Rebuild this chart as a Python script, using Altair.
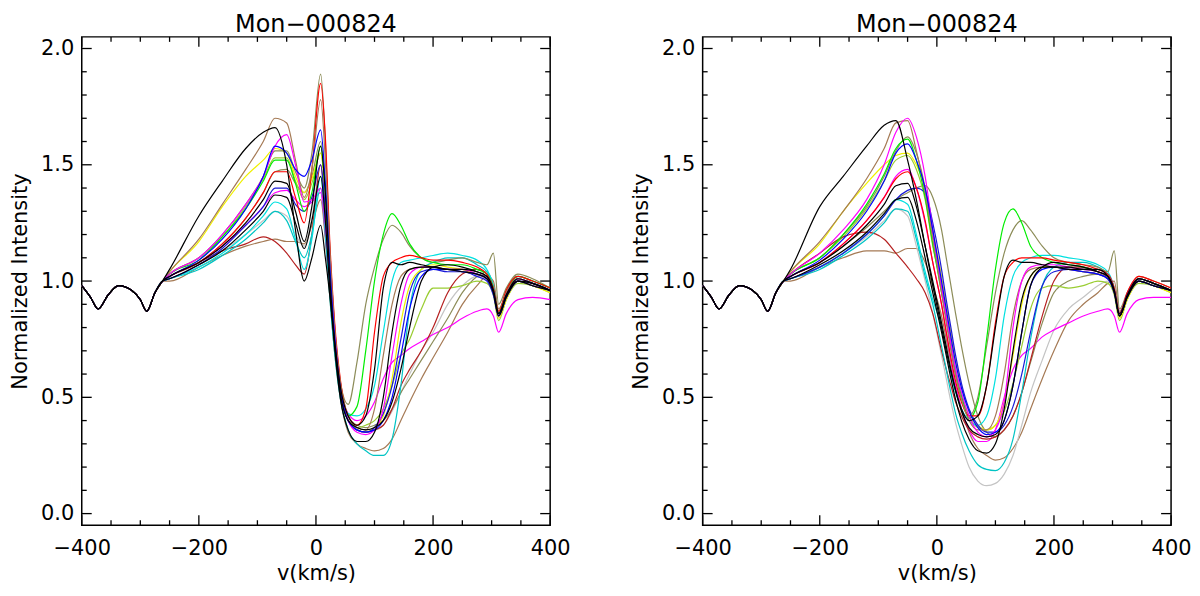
import altair as alt
import pandas as pd

# ---------------- data ----------------
V_WING = [-400, -385, -372, -355, -337, -315, -300, -289, -275, -262]
I_WING = [0.98, 0.93, 0.88, 0.94, 0.98, 0.96, 0.92, 0.87, 0.95, 1.00]

V_GRID = [-250, -200, -160, -120, -90, -70, -50, -35, -20, -7,
          8, 16, 24, 32, 42, 55,
          70, 85, 100, 115, 130, 145, 160, 180,
          200, 225, 250, 275, 292, 303,
          312, 325, 345, 370, 400]

CURVE_NAMES = ["tan2", "gray1", "magenta2", "olive2", "ygreen1", "darkred1", "cyan2", "cyan1",
               "yellow1", "blue2", "olive1", "green1", "red1", "tan1", "magenta1", "blue1",
               "black3", "black2", "black1"]
CURVE_COLORS = ["#a57a55", "#c4c4c4", "#ff00ff", "#8c8c58", "#9acd32", "#b52020", "#00c4c4", "#00e0e0",
                "#f0f000", "#1a1ad8", "#8c8c58", "#00ee00", "#ff0000", "#a57a55", "#ff00ff", "#0000ff",
                "#000000", "#000000", "#000000"]

# ---- left panel ----
L_black1 = [1.05, 1.28, 1.43, 1.57, 1.64, 1.66, 1.50, 1.22, 1.00, 1.10,
            1.24, 1.10, 0.93, 0.74, 0.54, 0.42,
            0.38, 0.42, 0.62, 0.97, 1.08, 1.07, 1.08, 1.07,
            1.06, 1.05, 1.05, 1.04, 1.02, 0.96,
            0.86, 0.94, 1.00, 0.99, 0.96]
L_tan1 = [1.04, 1.18, 1.33, 1.48, 1.60, 1.70, 1.68, 1.52, 1.36, 1.48,
          1.78, 1.52, 1.12, 0.80, 0.56, 0.42,
          0.37, 0.36, 0.45, 0.68, 0.90, 1.02, 1.05, 1.06,
          1.06, 1.05, 1.04, 1.03, 1.02, 0.96,
          0.86, 0.95, 1.01, 0.99, 0.96]
L_magenta1 = [1.03, 1.10, 1.20, 1.33, 1.45, 1.58, 1.63, 1.50, 1.34, 1.35,
              1.40, 1.24, 1.00, 0.76, 0.53, 0.40,
              0.35, 0.34, 0.36, 0.45, 0.68, 0.90, 1.03, 1.06,
              1.06, 1.05, 1.05, 1.03, 1.01, 0.96,
              0.85, 0.94, 1.01, 0.99, 0.96]
L_blue1 = [1.02, 1.09, 1.18, 1.31, 1.45, 1.58, 1.55, 1.48, 1.45, 1.52,
           1.65, 1.42, 1.05, 0.76, 0.53, 0.40,
           0.36, 0.35, 0.36, 0.40, 0.50, 0.68, 0.88, 1.02,
           1.05, 1.05, 1.04, 1.03, 1.01, 0.95,
           0.85, 0.93, 1.00, 0.99, 0.96]
L_olive1 = [1.03, 1.10, 1.20, 1.33, 1.45, 1.56, 1.56, 1.47, 1.40, 1.55,
            1.89, 1.60, 1.12, 0.80, 0.56, 0.47,
            0.65, 0.90, 1.06, 1.18, 1.24, 1.21, 1.15, 1.10,
            1.08, 1.09, 1.10, 1.08, 1.07, 1.12,
            0.90, 0.97, 1.03, 1.01, 0.97]
L_green1 = [1.03, 1.09, 1.19, 1.31, 1.43, 1.52, 1.52, 1.42, 1.30, 1.38,
            1.58, 1.38, 1.02, 0.76, 0.54, 0.42,
            0.46, 0.70, 1.00, 1.20, 1.29, 1.24, 1.16, 1.10,
            1.08, 1.07, 1.07, 1.05, 1.03, 0.97,
            0.86, 0.95, 1.02, 1.00, 0.97]
L_yellow1 = [1.04, 1.17, 1.32, 1.45, 1.52, 1.57, 1.55, 1.45, 1.38, 1.44,
             1.55, 1.38, 1.02, 0.76, 0.53, 0.40,
             0.36, 0.35, 0.37, 0.42, 0.58, 0.82, 0.98, 1.05,
             1.07, 1.06, 1.05, 1.03, 1.01, 0.95,
             0.84, 0.92, 1.00, 0.98, 0.95]
L_red1 = [1.02, 1.08, 1.16, 1.27, 1.38, 1.47, 1.47, 1.36, 1.25, 1.48,
          1.85, 1.62, 1.15, 0.82, 0.57, 0.42,
          0.38, 0.45, 0.78, 1.02, 1.08, 1.10, 1.11, 1.10,
          1.09, 1.09, 1.08, 1.06, 1.03, 0.97,
          0.87, 0.96, 1.02, 1.00, 0.97]
L_black2 = [1.02, 1.08, 1.15, 1.25, 1.35, 1.43, 1.42, 1.30, 1.17, 1.32,
            1.58, 1.38, 1.00, 0.73, 0.51, 0.40,
            0.37, 0.36, 0.37, 0.40, 0.48, 0.62, 0.80, 1.00,
            1.06, 1.07, 1.06, 1.04, 1.02, 0.96,
            0.86, 0.94, 1.01, 0.99, 0.96]
L_blue2 = [1.01, 1.07, 1.14, 1.24, 1.32, 1.40, 1.40, 1.33, 1.30, 1.36,
           1.50, 1.30, 0.98, 0.73, 0.51, 0.40,
           0.36, 0.35, 0.37, 0.43, 0.55, 0.75, 0.95, 1.04,
           1.05, 1.04, 1.04, 1.02, 1.00, 0.94,
           0.85, 0.93, 1.00, 0.98, 0.96]
L_black3 = [1.01, 1.07, 1.13, 1.22, 1.30, 1.37, 1.36, 1.25, 1.14, 1.26,
            1.45, 1.26, 0.95, 0.71, 0.49, 0.36,
            0.31, 0.31, 0.35, 0.50, 0.78, 0.98, 1.05, 1.06,
            1.06, 1.05, 1.04, 1.03, 1.01, 0.95,
            0.85, 0.93, 1.00, 0.98, 0.96]
L_cyan1 = [1.01, 1.06, 1.12, 1.20, 1.28, 1.34, 1.31, 1.18, 1.05, 1.18,
           1.45, 1.24, 0.95, 0.71, 0.51, 0.43,
           0.42, 0.45, 0.55, 0.78, 1.00, 1.08, 1.09, 1.10,
           1.11, 1.12, 1.11, 1.09, 1.05, 0.98,
           0.86, 0.96, 1.02, 1.00, 0.97]
L_cyan2 = [1.01, 1.05, 1.11, 1.18, 1.25, 1.30, 1.26, 1.17, 1.10, 1.20,
           1.40, 1.20, 0.92, 0.69, 0.49, 0.36,
           0.30, 0.27, 0.25, 0.25, 0.32, 0.55, 0.88, 1.05,
           1.08, 1.10, 1.10, 1.07, 1.04, 0.97,
           0.86, 0.95, 1.01, 0.99, 0.96]
L_gray1 = [1.02, 1.07, 1.13, 1.20, 1.26, 1.30, 1.28, 1.20, 1.15, 1.27,
           1.50, 1.28, 0.97, 0.73, 0.51, 0.40,
           0.37, 0.36, 0.36, 0.38, 0.44, 0.52, 0.60, 0.70,
           0.78, 0.90, 0.98, 1.02, 1.01, 0.95,
           0.85, 0.93, 1.00, 0.98, 0.96]
L_darkred1 = [1.02, 1.08, 1.13, 1.16, 1.19, 1.17, 1.12, 1.07, 1.03, 1.20,
              1.50, 1.28, 0.97, 0.73, 0.51, 0.40,
              0.36, 0.35, 0.36, 0.38, 0.45, 0.55, 0.62, 0.70,
              0.80, 0.95, 1.03, 1.05, 1.03, 0.96,
              0.86, 0.94, 1.00, 0.98, 0.96]
L_tan2 = [1.00, 1.06, 1.11, 1.15, 1.17, 1.18, 1.17, 1.17, 1.16, 1.24,
          1.35, 1.18, 0.92, 0.69, 0.49, 0.35,
          0.30, 0.28, 0.27, 0.28, 0.32, 0.40, 0.48, 0.58,
          0.67, 0.78, 0.90, 0.98, 1.02, 1.00,
          0.88, 0.95, 1.01, 0.99, 0.96]
L_magenta2 = [1.02, 1.08, 1.15, 1.24, 1.32, 1.38, 1.39, 1.35, 1.32, 1.34,
              1.38, 1.20, 0.95, 0.73, 0.53, 0.43,
              0.40, 0.42, 0.48, 0.58, 0.65, 0.68, 0.71, 0.74,
              0.77, 0.80, 0.84, 0.87, 0.88, 0.85,
              0.78, 0.86, 0.92, 0.93, 0.92]
L_ygreen1 = [1.03, 1.10, 1.19, 1.32, 1.44, 1.53, 1.53, 1.43, 1.35, 1.42,
             1.55, 1.36, 1.00, 0.74, 0.51, 0.40,
             0.37, 0.38, 0.40, 0.45, 0.55, 0.68, 0.75, 0.88,
             0.97, 0.97, 0.98, 1.00, 0.99, 0.94,
             0.83, 0.92, 0.99, 0.98, 0.95]
L_olive2 = [1.02, 1.08, 1.16, 1.27, 1.38, 1.47, 1.48, 1.42, 1.38, 1.45,
            1.60, 1.40, 1.02, 0.75, 0.53, 0.42,
            0.38, 0.37, 0.38, 0.40, 0.45, 0.52, 0.58, 0.66,
            0.74, 0.84, 0.95, 1.02, 1.04, 0.98,
            0.87, 0.95, 1.01, 0.99, 0.96]

# ---- right panel ----
R_black1 = [1.05, 1.32, 1.45, 1.58, 1.67, 1.69, 1.52, 1.35, 1.15, 0.98,
            0.80, 0.70, 0.61, 0.53, 0.45, 0.40,
            0.42, 0.55, 0.80, 1.02, 1.09, 1.08, 1.08, 1.07,
            1.06, 1.06, 1.05, 1.05, 1.02, 0.95,
            0.85, 0.93, 1.01, 0.99, 0.96]
R_magenta1 = [1.03, 1.12, 1.22, 1.35, 1.50, 1.64, 1.70, 1.62, 1.45, 1.22,
              0.98, 0.85, 0.73, 0.62, 0.52, 0.42,
              0.35, 0.33, 0.36, 0.48, 0.80, 1.00, 1.06, 1.07,
              1.07, 1.06, 1.05, 1.04, 1.02, 0.96,
              0.86, 0.94, 1.01, 0.99, 0.96]
R_tan1 = [1.04, 1.17, 1.30, 1.44, 1.57, 1.68, 1.69, 1.56, 1.38, 1.18,
          0.95, 0.82, 0.70, 0.59, 0.49, 0.40,
          0.36, 0.36, 0.42, 0.60, 0.85, 1.00, 1.05, 1.06,
          1.06, 1.05, 1.04, 1.03, 1.02, 0.96,
          0.85, 0.93, 1.00, 0.98, 0.96]
R_olive1 = [1.03, 1.10, 1.20, 1.32, 1.45, 1.56, 1.62, 1.55, 1.40, 1.20,
            0.97, 0.84, 0.72, 0.60, 0.49, 0.42,
            0.50, 0.72, 0.95, 1.12, 1.22, 1.26, 1.22, 1.15,
            1.10, 1.08, 1.07, 1.06, 1.04, 1.13,
            0.88, 0.95, 1.02, 1.00, 0.97]
R_green1 = [1.03, 1.10, 1.20, 1.33, 1.46, 1.57, 1.61, 1.52, 1.36, 1.16,
            0.95, 0.84, 0.72, 0.61, 0.51, 0.41,
            0.48, 0.75, 1.05, 1.25, 1.31, 1.25, 1.15, 1.10,
            1.08, 1.07, 1.06, 1.04, 1.02, 0.96,
            0.85, 0.94, 1.01, 0.99, 0.96]
R_yellow1 = [1.04, 1.16, 1.30, 1.42, 1.50, 1.54, 1.55, 1.50, 1.40, 1.22,
             1.02, 0.90, 0.78, 0.66, 0.55, 0.44,
             0.38, 0.36, 0.38, 0.48, 0.68, 0.90, 1.02, 1.06,
             1.06, 1.05, 1.04, 1.03, 1.01, 0.95,
             0.84, 0.92, 1.00, 0.98, 0.95]
R_red1 = [1.02, 1.08, 1.16, 1.26, 1.36, 1.44, 1.47, 1.40, 1.26, 1.08,
          0.90, 0.78, 0.67, 0.57, 0.48, 0.42,
          0.42, 0.55, 0.82, 1.02, 1.08, 1.10, 1.10, 1.10,
          1.09, 1.08, 1.07, 1.05, 1.03, 0.97,
          0.86, 0.95, 1.02, 1.00, 0.97]
R_blue1 = [1.02, 1.09, 1.18, 1.30, 1.43, 1.55, 1.59, 1.52, 1.40, 1.22,
           1.00, 0.88, 0.76, 0.65, 0.54, 0.44,
           0.37, 0.34, 0.35, 0.40, 0.55, 0.78, 0.98, 1.05,
           1.06, 1.05, 1.04, 1.03, 1.01, 0.95,
           0.85, 0.93, 1.00, 0.98, 0.96]
R_black2 = [1.02, 1.08, 1.15, 1.24, 1.33, 1.41, 1.42, 1.32, 1.15, 1.00,
            0.82, 0.72, 0.62, 0.53, 0.44, 0.37,
            0.34, 0.33, 0.34, 0.40, 0.55, 0.78, 0.98, 1.06,
            1.08, 1.07, 1.06, 1.04, 1.02, 0.96,
            0.86, 0.94, 1.01, 0.99, 0.96]
R_blue2 = [1.01, 1.06, 1.12, 1.20, 1.28, 1.35, 1.39, 1.40, 1.38, 1.25,
           1.05, 0.92, 0.80, 0.68, 0.56, 0.45,
           0.38, 0.35, 0.35, 0.38, 0.46, 0.60, 0.78, 0.98,
           1.04, 1.05, 1.04, 1.03, 1.01, 0.95,
           0.85, 0.93, 1.00, 0.98, 0.96]
R_black3 = [1.01, 1.07, 1.13, 1.21, 1.29, 1.35, 1.36, 1.26, 1.10, 0.95,
            0.78, 0.68, 0.58, 0.49, 0.40, 0.32,
            0.27, 0.26, 0.30, 0.45, 0.70, 0.92, 1.02, 1.06,
            1.06, 1.05, 1.05, 1.04, 1.02, 0.96,
            0.85, 0.93, 1.00, 0.98, 0.96]
R_cyan1 = [1.01, 1.06, 1.12, 1.20, 1.28, 1.35, 1.33, 1.20, 1.04, 0.92,
           0.80, 0.70, 0.60, 0.52, 0.45, 0.40,
           0.38, 0.42, 0.58, 0.85, 1.02, 1.08, 1.10, 1.11,
           1.11, 1.10, 1.09, 1.07, 1.04, 0.97,
           0.85, 0.94, 1.01, 0.99, 0.96]
R_cyan2 = [1.01, 1.05, 1.11, 1.18, 1.25, 1.31, 1.30, 1.18, 1.02, 0.90,
           0.72, 0.62, 0.52, 0.43, 0.35, 0.27,
           0.21, 0.19, 0.185, 0.22, 0.32, 0.52, 0.75, 0.98,
           1.06, 1.08, 1.08, 1.06, 1.03, 0.96,
           0.85, 0.94, 1.01, 0.99, 0.96]
R_gray1 = [1.01, 1.06, 1.12, 1.19, 1.26, 1.31, 1.28, 1.15, 1.00, 0.86,
           0.68, 0.58, 0.48, 0.39, 0.30, 0.20,
           0.14, 0.12, 0.13, 0.17, 0.25, 0.38, 0.52, 0.66,
           0.79, 0.88, 0.93, 0.98, 1.00, 0.95,
           0.85, 0.93, 1.00, 0.98, 0.96]
R_darkred1 = [1.03, 1.12, 1.19, 1.21, 1.18, 1.12, 1.06, 1.01, 0.95, 0.86,
              0.70, 0.62, 0.55, 0.48, 0.42, 0.36,
              0.33, 0.32, 0.33, 0.36, 0.42, 0.52, 0.66, 0.85,
              1.00, 1.06, 1.06, 1.04, 1.02, 0.96,
              0.86, 0.94, 1.01, 0.99, 0.96]
R_tan2 = [1.00, 1.06, 1.10, 1.13, 1.13, 1.12, 1.14, 1.14, 1.08, 0.98,
          0.85, 0.75, 0.65, 0.55, 0.45, 0.35,
          0.28, 0.25, 0.23, 0.24, 0.28, 0.35, 0.45, 0.58,
          0.70, 0.83, 0.90, 0.95, 0.99, 1.00,
          0.87, 0.94, 1.01, 0.99, 0.96]
R_magenta2 = [1.02, 1.08, 1.16, 1.26, 1.36, 1.45, 1.48, 1.40, 1.25, 1.08,
              0.90, 0.78, 0.66, 0.55, 0.45, 0.36,
              0.31, 0.31, 0.36, 0.50, 0.62, 0.68, 0.71, 0.76,
              0.79, 0.82, 0.85, 0.87, 0.88, 0.85,
              0.78, 0.86, 0.92, 0.93, 0.93]
R_ygreen1 = [1.03, 1.10, 1.19, 1.31, 1.43, 1.52, 1.54, 1.48, 1.35, 1.15,
             0.98, 0.86, 0.74, 0.62, 0.51, 0.42,
             0.37, 0.36, 0.38, 0.44, 0.56, 0.72, 0.88, 0.97,
             0.98, 0.97, 0.98, 1.00, 0.99, 0.94,
             0.83, 0.92, 0.99, 0.98, 0.95]
R_olive2 = [1.02, 1.08, 1.15, 1.23, 1.30, 1.35, 1.38, 1.40, 1.41, 1.36,
            1.22, 1.10, 0.98, 0.86, 0.72, 0.56,
            0.42, 0.35, 0.33, 0.36, 0.42, 0.52, 0.65, 0.82,
            0.95, 1.00, 1.02, 1.03, 1.01, 0.95,
            0.85, 0.93, 1.00, 0.98, 0.96]

LEFT_CURVES = [L_tan2, L_gray1, L_magenta2, L_olive2, L_ygreen1, L_darkred1, L_cyan2, L_cyan1,
               L_yellow1, L_blue2, L_olive1, L_green1, L_red1, L_tan1, L_magenta1, L_blue1,
               L_black3, L_black2, L_black1]
RIGHT_CURVES = [R_tan2, R_gray1, R_magenta2, R_olive2, R_ygreen1, R_darkred1, R_cyan2, R_cyan1,
                R_yellow1, R_blue2, R_olive1, R_green1, R_red1, R_tan1, R_magenta1, R_blue1,
                R_black3, R_black2, R_black1]

X_MAJOR = [-400, -200, 0, 200, 400]
X_MINOR = [-350, -300, -250, -150, -100, -50, 50, 100, 150, 250, 300, 350]
Y_MAJOR = [0.0, 0.5, 1.0, 1.5, 2.0]
Y_MINOR = [0.1, 0.2, 0.3, 0.4, 0.6, 0.7, 0.8, 0.9, 1.1, 1.2, 1.3, 1.4, 1.6, 1.7, 1.8, 1.9]

TITLE = "Mon\u2212000824"

# ---------------- chart ----------------
W, H = 470, 490
FONT = "DejaVu Sans"
xs = alt.Scale(domain=[-400, 400], nice=False, zero=False)
ys = alt.Scale(domain=[-0.05, 2.05], nice=False, zero=False)

X_AXIS = alt.Axis(values=X_MAJOR, format="d", title="v(km/s)",
                  domain=False, ticks=False, grid=False,
                  labelFont=FONT, labelFontSize=21, labelColor="black",
                  labelPadding=12, titleFont=FONT, titleFontSize=21,
                  titleFontWeight="normal", titleColor="black", titlePadding=4,
                  labelFlush=False)
Y_AXIS = alt.Axis(values=Y_MAJOR, format=".1f", title="Normalized Intensity",
                  domain=False, ticks=False, grid=False,
                  labelFont=FONT, labelFontSize=21, labelColor="black",
                  labelPadding=8, titleFont=FONT, titleFontSize=21,
                  titleFontWeight="normal", titleColor="black", titlePadding=10,
                  labelFlush=False)


def build_df(curves):
    rows = []
    for order, (name, vals) in enumerate(zip(CURVE_NAMES, curves)):
        for i, (v, y) in enumerate(zip(V_WING + V_GRID, I_WING + vals)):
            rows.append({"curve": name, "k": order, "v": v, "I": y, "i": i})
    return pd.DataFrame(rows)


def panel(curves):
    df = build_df(curves)
    lines = alt.Chart(df).mark_line(strokeWidth=1.2, clip=True, interpolate="monotone").encode(
        x=alt.X("v:Q", scale=xs, axis=X_AXIS, title="v(km/s)"),
        y=alt.Y("I:Q", scale=ys, axis=Y_AXIS, title="Normalized Intensity"),
        color=alt.Color("curve:N", scale=alt.Scale(domain=CURVE_NAMES, range=CURVE_COLORS),
                        legend=None),
        detail="k:N",
        order="i:Q",
    )

    xmaj = pd.DataFrame({"v": X_MAJOR})
    xmin = pd.DataFrame({"v": X_MINOR})
    ymaj = pd.DataFrame({"I": Y_MAJOR})
    ymin = pd.DataFrame({"I": Y_MINOR})

    def xt(df, length, top):
        if top:
            yy, yy2 = 0, length
        else:
            yy, yy2 = H, H - length
        return alt.Chart(df).mark_rule(color="black", strokeWidth=1.3).encode(
            x=alt.X("v:Q", scale=xs, axis=X_AXIS, title="v(km/s)"),
            y=alt.value(yy), y2=alt.value(yy2))

    def yt(df, length, right):
        if right:
            xx, xx2 = W, W - length
        else:
            xx, xx2 = 0, length
        return alt.Chart(df).mark_rule(color="black", strokeWidth=1.3).encode(
            y=alt.Y("I:Q", scale=ys, axis=Y_AXIS, title="Normalized Intensity"),
            x=alt.value(xx), x2=alt.value(xx2))

    ticks = [xt(xmaj, 10, False), xt(xmaj, 10, True), xt(xmin, 5, False), xt(xmin, 5, True),
             yt(ymaj, 10, False), yt(ymaj, 10, True), yt(ymin, 5, False), yt(ymin, 5, True)]

    return alt.layer(lines, *ticks).properties(
        width=W, height=H,
        title=alt.TitleParams(TITLE, font=FONT, fontSize=24, fontWeight="normal",
                              color="black", offset=-1, anchor="middle"),
    )


chart = alt.hconcat(panel(LEFT_CURVES), panel(RIGHT_CURVES), spacing=58).properties(
    padding={"left": 0, "top": 3, "right": 0, "bottom": 0}
).configure(
    background="white",
    view=alt.ViewConfig(stroke="black", strokeWidth=1.5),
)

chart.save("out.html", embed_options={"renderer": "svg", "actions": False})
